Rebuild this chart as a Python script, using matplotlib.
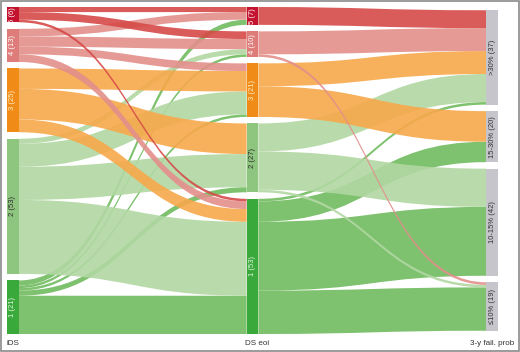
import numpy as np
import matplotlib.pyplot as plt
import matplotlib.transforms as mtransforms
from matplotlib.path import Path
from matplotlib.patches import PathPatch, Rectangle

plt.rcParams['font.family'] = ['Liberation Sans', 'DejaVu Sans']

# axes (columns) and their strata, top to bottom
axis_titles = ["iDS", "DS eoi", "3-y fail. prob"]
ids_levels = ["5", "4", "3", "2", "1"]
eoi_levels = ["5", "4", "3", "2", "1"]
prob_levels = [">30%", "15-30%", "10-15%", "\u226410%"]

# patients moving iDS -> DS eoi (rows: iDS 5..1, cols: DS eoi 5..1)
ids_to_eoi = np.array([
    [2, 3, 0, 0, 1],
    [3, 4, 3, 0, 3],
    [0, 0, 8, 12, 5],
    [0, 2, 9, 13, 29],
    [2, 1, 1, 2, 15],
])
# patients moving DS eoi -> 3-y failure probability
eoi_to_prob = np.array([
    [7, 0, 0, 0],
    [9, 0, 0, 1],
    [9, 12, 0, 0],
    [11, 0, 15, 1],
    [1, 8, 27, 17],
])

node_colors = ["#c3132f", "#dd7c79", "#f18b18", "#8fc67f", "#3aa93b"]
flow_colors = ["#d64a48", "#e38f8b", "#f7a84a", "#b2d8a3", "#70bb5e"]
label_colors = ["white", "white", "#fff2c8", "#2a2a2a", "#e6f6e0"]
gray = "#c5c5cb"

gap = 2.55
node_w = 0.049


def stack(counts, total_h):
    h = counts.sum() + gap * (len(counts) - 1)
    y = (total_h - h) / 2
    tops = []
    for c in counts:
        tops.append(y)
        y += c + gap
    return np.array(tops)


ids_n = ids_to_eoi.sum(axis=1)
eoi_n = ids_to_eoi.sum(axis=0)
prob_n = eoi_to_prob.sum(axis=0)
H = max(ids_n.sum() + gap * 4, prob_n.sum() + gap * 3)

ids_top = stack(ids_n, H)
eoi_top = stack(eoi_n, H)
prob_top = stack(prob_n, H)

fig = plt.figure(figsize=(5.2, 3.52), dpi=100)
ax = fig.add_axes([7 / 520, 1 - 334 / 352, 491 / 520, 327 / 352])
ax.set_xlim(-node_w / 2, 2 + node_w / 2)
ax.set_ylim(H, 0)


def ribbon(x0, x1, a0, b0, a1, b1, color):
    xm = (x0 + x1) / 2
    verts = [(x0, a0), (xm, a0), (xm, a1), (x1, a1),
             (x1, b1), (xm, b1), (xm, b0), (x0, b0), (x0, a0)]
    codes = [Path.MOVETO, Path.CURVE4, Path.CURVE4, Path.CURVE4,
             Path.LINETO, Path.CURVE4, Path.CURVE4, Path.CURVE4, Path.CLOSEPOLY]
    ax.add_patch(PathPatch(Path(verts, codes), facecolor=color,
                           edgecolor="none", alpha=0.9, zorder=1))


def draw_flows(mat, src_top, dst_top, col, colors):
    n_src, n_dst = mat.shape
    # outgoing lodes ordered by destination, incoming lodes by source
    out_off = np.cumsum(np.hstack([np.zeros((n_src, 1)), mat[:, :-1]]), axis=1)
    in_off = np.cumsum(np.vstack([np.zeros((1, n_dst)), mat[:-1, :]]), axis=0)
    for i in range(n_src - 1, -1, -1):
        for j in range(n_dst):
            v = mat[i, j]
            if v == 0:
                continue
            a0 = src_top[i] + out_off[i, j]
            a1 = dst_top[j] + in_off[i, j]
            ribbon(col + node_w / 2, col + 1 - node_w / 2,
                   a0, a0 + v, a1, a1 + v, colors[i])


draw_flows(ids_to_eoi, ids_top, eoi_top, 0, flow_colors)
draw_flows(eoi_to_prob, eoi_top, prob_top, 1, flow_colors)


def draw_nodes(col, tops, counts, levels, fcols, tcols):
    for t, c, lab, fc, tc in zip(tops, counts, levels, fcols, tcols):
        ax.add_patch(Rectangle((col - node_w / 2, t), node_w, c,
                               facecolor=fc, edgecolor="none", zorder=2))
        ax.text(col, t + c / 2, f"{lab} ({c})", rotation=90, ha="center",
                va="center", fontsize=5.5, color=tc, zorder=3)


draw_nodes(0, ids_top, ids_n, ids_levels, node_colors, label_colors)
draw_nodes(1, eoi_top, eoi_n, eoi_levels, node_colors, label_colors)
draw_nodes(2, prob_top, prob_n, prob_levels, [gray] * 4, ["#333333"] * 4)

ax.set_xticks([0, 1, 2])
ax.set_xticklabels(axis_titles, fontsize=5.8, color="#333333")
ax.tick_params(axis="x", length=0, pad=4)
# middle title sits a little right of its column in the original
mid_lab = ax.get_xticklabels()[1]
mid_lab.set_transform(mid_lab.get_transform() +
                      mtransforms.ScaledTranslation(5 / 100, 0, fig.dpi_scale_trans))
ax.set_yticks([])
for s in ax.spines.values():
    s.set_visible(False)

fig.patches.append(Rectangle((0.001, 0.002), 0.997, 0.995, transform=fig.transFigure,
                             fill=False, edgecolor="#8a8a8a", lw=1.2))

fig.savefig("out.png", dpi=100)
